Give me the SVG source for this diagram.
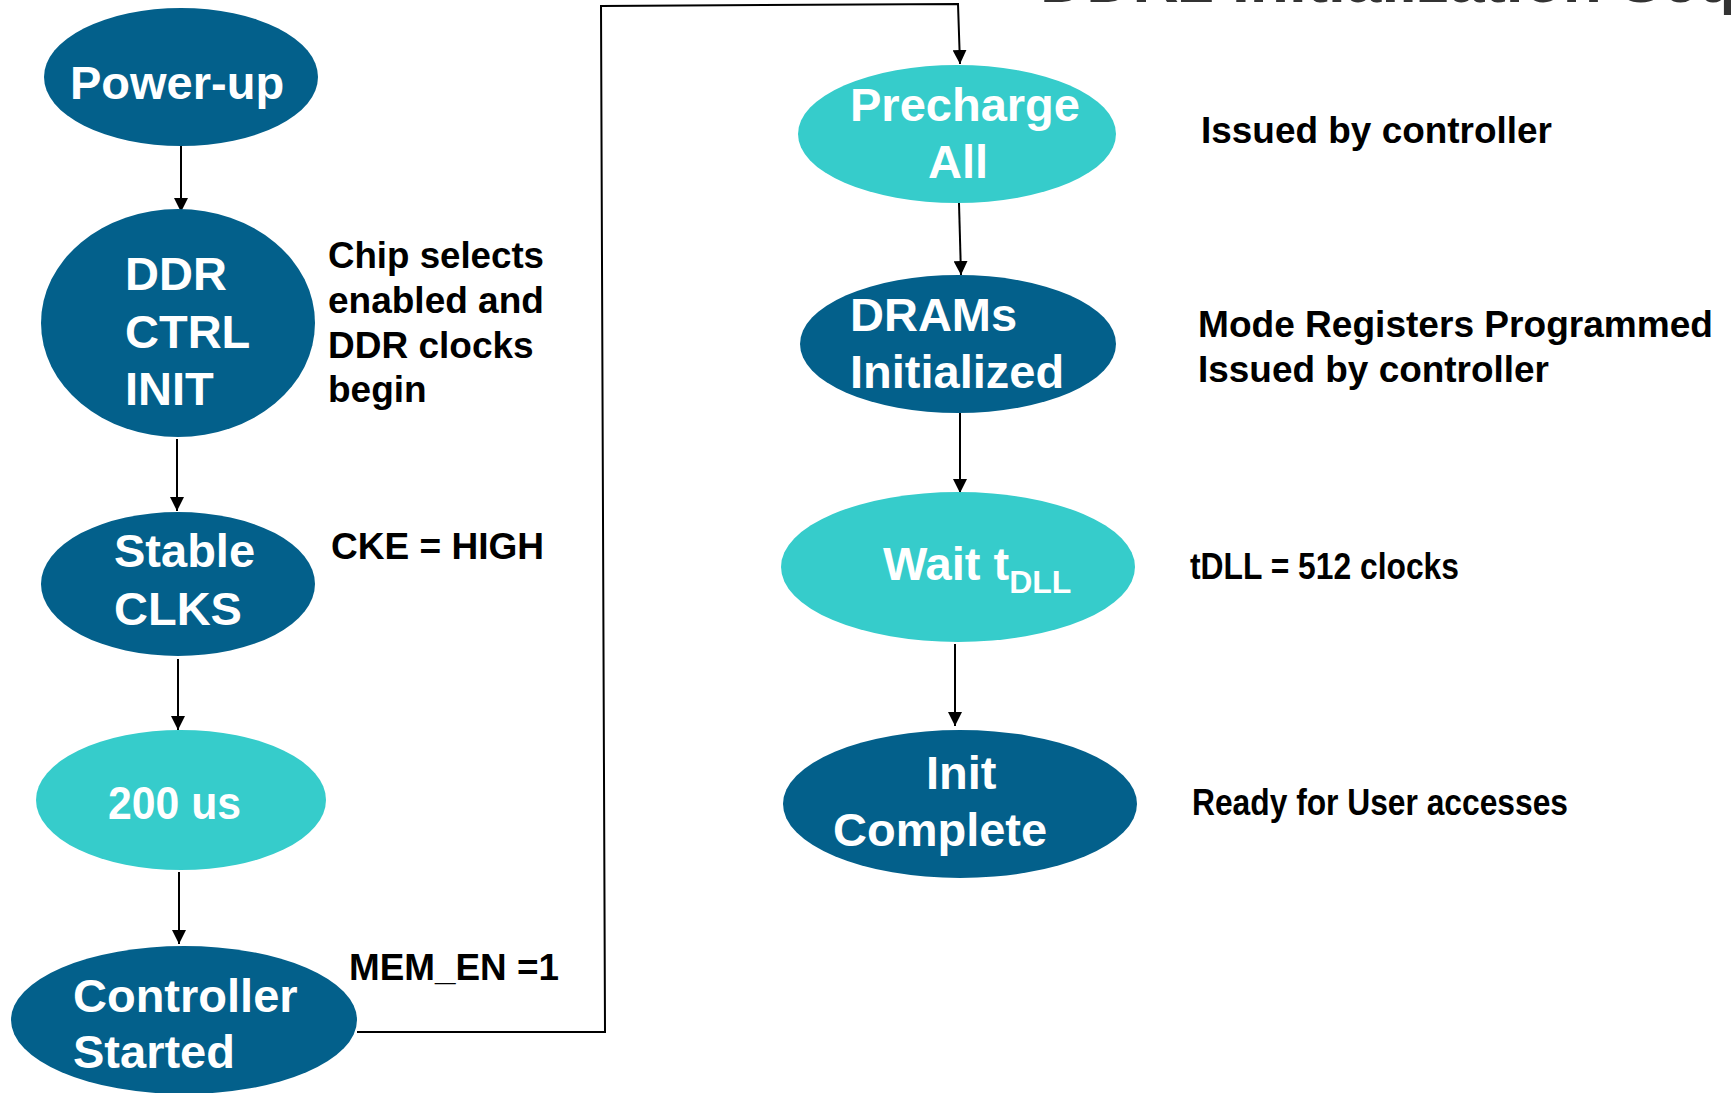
<svg xmlns="http://www.w3.org/2000/svg" width="1731" height="1093" viewBox="0 0 1731 1093">
<defs>
<style>
.dark{fill:#03608b}
.cyan{fill:#36cccb}
.nt{font-family:"Liberation Sans",Arial,sans-serif;font-weight:bold;font-size:47px;fill:#ffffff}
.an{font-family:"Liberation Sans",Arial,sans-serif;font-weight:bold;font-size:37px;fill:#000000}
.conn{fill:none;stroke:#000000;stroke-width:2}
</style>
<marker id="arr" markerUnits="userSpaceOnUse" markerWidth="14" markerHeight="14" refX="14" refY="7" orient="auto">
<path d="M0,0 L14,7 L0,14 z" fill="#000000"/>
</marker>
</defs>
<rect width="1731" height="1093" fill="#ffffff"/>
<text x="1040" y="2" font-family="Liberation Sans,Arial,sans-serif" font-weight="bold" font-size="64" fill="#333333">DDR2 Initialization Sequence</text>

<g id="connectors">
<path class="conn" d="M181,146 V212" marker-end="url(#arr)"/>
<path class="conn" d="M177,439 V511" marker-end="url(#arr)"/>
<path class="conn" d="M178,659 V730" marker-end="url(#arr)"/>
<path class="conn" d="M179,872 V944" marker-end="url(#arr)"/>
<path class="conn" d="M357,1032 H605 L601,6 L958,4 L960,64" marker-end="url(#arr)"/>
<path class="conn" d="M959,203 L961,275" marker-end="url(#arr)"/>
<path class="conn" d="M960,413 V493" marker-end="url(#arr)"/>
<path class="conn" d="M955,644 V726" marker-end="url(#arr)"/>
</g>

<g id="power-up">
<ellipse class="dark" cx="181" cy="77" rx="137" ry="69"/>
<text class="nt" x="70" y="99">Power-up</text>
</g>
<g id="ddr-ctrl-init">
<ellipse class="dark" cx="178" cy="323" rx="137" ry="114"/>
<text class="nt" x="125" y="290">DDR</text>
<text class="nt" x="125" y="348">CTRL</text>
<text class="nt" x="125" y="405">INIT</text>
</g>
<g id="stable-clks">
<ellipse class="dark" cx="178" cy="584" rx="137" ry="72"/>
<text class="nt" x="114" y="567">Stable</text>
<text class="nt" x="114" y="625">CLKS</text>
</g>
<g id="wait-200us">
<ellipse class="cyan" cx="181" cy="800" rx="145" ry="70"/>
<text class="nt" x="108" y="819" font-size="42" textLength="133" lengthAdjust="spacingAndGlyphs">200 us</text>
</g>
<g id="controller-started">
<ellipse class="dark" cx="184" cy="1020" rx="173" ry="74"/>
<text class="nt" x="73" y="1012">Controller</text>
<text class="nt" x="73" y="1068">Started</text>
</g>
<g id="precharge-all">
<ellipse class="cyan" cx="957" cy="134" rx="159" ry="69"/>
<text class="nt" x="850" y="121">Precharge</text>
<text class="nt" x="928" y="178">All</text>
</g>
<g id="drams-initialized">
<ellipse class="dark" cx="958" cy="344" rx="158" ry="69"/>
<text class="nt" x="850" y="331">DRAMs</text>
<text class="nt" x="850" y="388">Initialized</text>
</g>
<g id="wait-tdll">
<ellipse class="cyan" cx="958" cy="567" rx="177" ry="75"/>
<text class="nt" x="883" y="580">Wait t<tspan font-size="32" dy="13">DLL</tspan></text>
</g>
<g id="init-complete">
<ellipse class="dark" cx="960" cy="804" rx="177" ry="74"/>
<text class="nt" x="926" y="789">Init</text>
<text class="nt" x="833" y="846">Complete</text>
</g>

<g id="annotations">
<text class="an" x="328" y="268" textLength="216" lengthAdjust="spacingAndGlyphs">Chip selects</text>
<text class="an" x="328" y="313">enabled and</text>
<text class="an" x="328" y="358">DDR clocks</text>
<text class="an" x="328" y="402">begin</text>
<text class="an" x="331" y="559" textLength="213" lengthAdjust="spacingAndGlyphs">CKE = HIGH</text>
<text class="an" x="349" y="980" textLength="210" lengthAdjust="spacingAndGlyphs">MEM_EN =1</text>
<text class="an" x="1201" y="143" textLength="351" lengthAdjust="spacingAndGlyphs">Issued by controller</text>
<text class="an" x="1198" y="337" textLength="515" lengthAdjust="spacingAndGlyphs">Mode Registers Programmed</text>
<text class="an" x="1198" y="382" textLength="351" lengthAdjust="spacingAndGlyphs">Issued by controller</text>
<text class="an" x="1190" y="579" font-size="28" textLength="269" lengthAdjust="spacingAndGlyphs">tDLL = 512 clocks</text>
<text class="an" x="1192" y="815" font-size="29" textLength="376" lengthAdjust="spacingAndGlyphs">Ready for User accesses</text>
</g>
</svg>
